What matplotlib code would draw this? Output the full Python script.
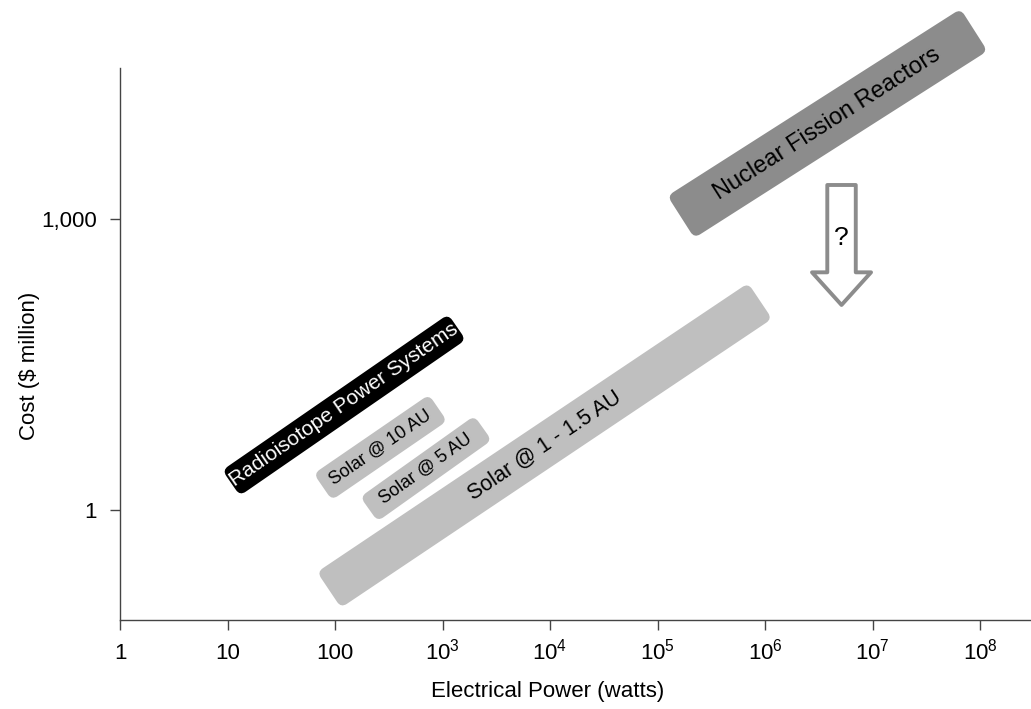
import numpy as np
import matplotlib
matplotlib.use("Agg")
import matplotlib.pyplot as plt
from matplotlib.patches import FancyBboxPatch
from matplotlib.transforms import Affine2D

# ---------------------------
# Data (watts, $ million) - centre line ends of each band
# ---------------------------
band_names = ["Solar @ 1 - 1.5 AU", "Nuclear Fission Reactors",
              "Radioisotope Power Systems", "Solar @ 10 AU", "Solar @ 5 AU"]
watt_lo = [88, 1.65e5, 10.8, 77, 207]
cost_lo = [0.15, 1050, 1.9, 1.73, 1.02]
watt_hi = [9.0e5, 8.8e7, 1364, 908, 2380]
cost_hi = [143, 8.9e4, 77, 11.3, 7.0]

arrow_watt = 5.15e6
arrow_cost_top = 2243
arrow_cost_tip = 130
question_cost = 637

xtick_vals = [1, 10, 100, 1e3, 1e4, 1e5, 1e6, 1e7, 1e8]
xtick_labels = ["1", "10", "100", r"$\mathregular{10^3}$", r"$\mathregular{10^4}$",
                r"$\mathregular{10^5}$", r"$\mathregular{10^6}$", r"$\mathregular{10^7}$",
                r"$\mathregular{10^8}$"]
ytick_vals = [1, 1000]
ytick_labels = ["1", "1,000"]

# ---------------------------
# Style
# ---------------------------
plt.rcParams["font.family"] = ["Liberation Sans", "DejaVu Sans"]
plt.rcParams["mathtext.fontset"] = "custom"
plt.rcParams["mathtext.rm"] = "Liberation Sans"
plt.rcParams["mathtext.it"] = "Liberation Sans:italic"
plt.rcParams["mathtext.bf"] = "Liberation Sans:bold"

band_width_px = [43, 50, 31, 32, 30]
band_color = ["#bfbfbf", "#8c8c8c", "#000000", "#bfbfbf", "#bfbfbf"]
text_color = ["black", "black", "white", "black", "black"]
text_size = [15.5, 17, 15, 13, 13]
spine_col = "#444444"

fig = plt.figure(figsize=(10.31, 7.09), dpi=100)
ax = fig.add_axes([120 / 1031, 89 / 709, 910 / 1031, 552 / 709])
ax.set_xscale("log")
ax.set_yscale("log")
ax.set_xlim(1, 10 ** 8.465)
ax.set_ylim(10 ** -1.134, 10 ** 4.557)

for s in ["top", "right"]:
    ax.spines[s].set_visible(False)
for s in ["left", "bottom"]:
    ax.spines[s].set_color(spine_col)
    ax.spines[s].set_linewidth(1.0)

ax.set_xticks(xtick_vals)
ax.set_xticklabels(xtick_labels)
ax.set_yticks(ytick_vals)
ax.set_yticklabels(ytick_labels)
ax.minorticks_off()
ax.tick_params(axis="both", direction="out", length=7.5, width=1.0,
               color=spine_col, labelsize=16, labelcolor="black")
ax.tick_params(axis="x", pad=20.6)
ax.tick_params(axis="y", pad=9)
# digits on a common baseline, superscripts stick up
plt.setp(ax.get_xticklabels(), va="baseline")

ax.set_xlabel("Electrical Power (watts)", fontsize=16)
ax.set_ylabel("Cost ($ million)", fontsize=16)
ax.xaxis.set_label_coords(0.470, -0.11)
ax.yaxis.set_label_coords(-0.088, 0.46)


def draw_band(i):
    x0, y0 = ax.transData.transform((watt_lo[i], cost_lo[i]))
    x1, y1 = ax.transData.transform((watt_hi[i], cost_hi[i]))
    length = np.hypot(x1 - x0, y1 - y0)
    angle = np.degrees(np.arctan2(y1 - y0, x1 - x0))
    w = band_width_px[i]
    box = FancyBboxPatch((-length / 2, -w / 2), length, w,
                         boxstyle="round,pad=0,rounding_size=7",
                         fc=band_color[i], ec="none", clip_on=False,
                         transform=Affine2D().rotate_deg(angle).translate((x0 + x1) / 2, (y0 + y1) / 2))
    ax.add_patch(box)
    xm = np.sqrt(watt_lo[i] * watt_hi[i])
    ym = np.sqrt(cost_lo[i] * cost_hi[i])
    ax.text(xm, ym, band_names[i], rotation=angle, rotation_mode="anchor",
            ha="center", va="center", color=text_color[i], fontsize=text_size[i],
            clip_on=False)


for i in range(len(band_names)):
    draw_band(i)

# hollow "?" arrow
ax.annotate("", xy=(arrow_watt, arrow_cost_tip), xytext=(arrow_watt, arrow_cost_top),
            arrowprops=dict(arrowstyle="simple,head_length=23.5,head_width=42.5,tail_width=20.5",
                            mutation_scale=1, shrinkA=0, shrinkB=0,
                            fc="white", ec="#8c8c8c", lw=2.8))
ax.text(arrow_watt, question_cost, "?", ha="center", va="center", fontsize=19)

fig.savefig("out.png", dpi=100)
